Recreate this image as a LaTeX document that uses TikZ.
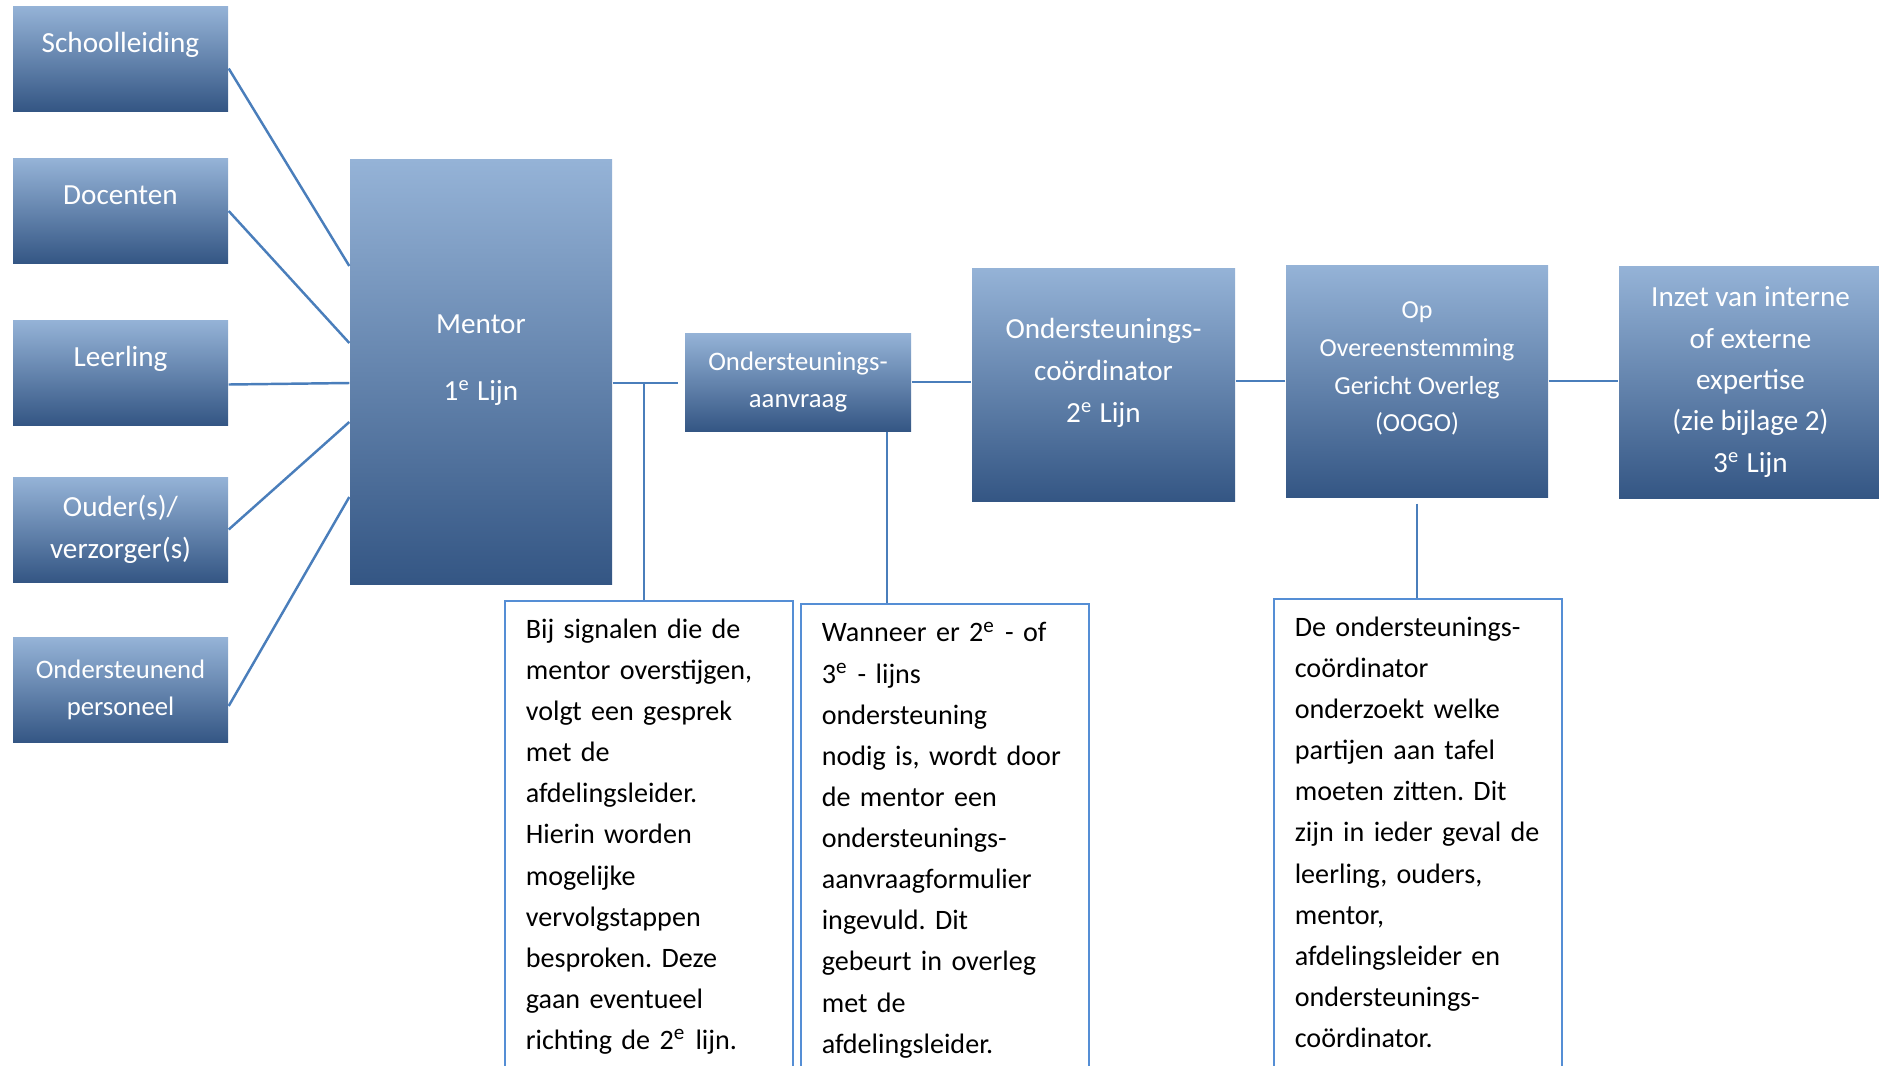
\documentclass[tikz,border=0pt]{standalone}
\usepackage{fontspec}
\setmainfont{Carlito}
\usepackage{tikz}
\usetikzlibrary{positioning, calc}
\definecolor{boxtop}{RGB}{149, 179, 215}
\definecolor{boxmid}{RGB}{79, 129, 189}
\definecolor{boxbot}{RGB}{52, 86, 132}
\definecolor{linkblue}{RGB}{74, 126, 187}
\definecolor{noteblue}{RGB}{85, 142, 213}
\frenchspacing

\begin{document}
\begin{tikzpicture}[
  box/.style={rectangle, top color=boxtop, middle color=boxmid, bottom color=boxbot, text=white, align=center, inner sep=0pt, font=\fontsize{8.3}{11.9}\selectfont},
  side/.style={box, minimum width=2.15cm, minimum height=1.05cm},
  oneline/.style={text height=0.2cm, text depth=0.33cm},
  smalltext/.style={font=\fontsize{7.6}{10.4}\selectfont},
  link/.style={draw=linkblue, line width=0.7pt},
  note/.style={draw=noteblue, line width=0.45pt, anchor=north west, text width=2.46cm, align=left, inner xsep=0.21cm, inner ysep=0.18cm, text depth=5cm, font=\fontsize{8.0}{11.7}\selectfont}
]
  \useasboundingbox (0, 0) rectangle (18.79, -10.65);
  \clip (0, 0) rectangle (18.79, -10.65);

  \node[side, oneline] (school) at (1.205, -0.585) {Schoolleiding};
  \node[side, oneline] (docent) at (1.205, -2.11) {Docenten};
  \node[side, oneline] (leerling) at (1.205, -3.725) {Leerling};
  \node[side] (ouder) at (1.205, -5.295) {Ouder(s)/\\verzorger(s)};
  \node[side, smalltext] (personeel) at (1.205, -6.90) {Ondersteunend\\personeel};

  \node[box, minimum width=2.62cm, minimum height=4.25cm] (mentor) at (4.81, -3.715) {
    Mentor\\[0.25cm]
    1\textsuperscript{e} Lijn\\[-3.9pt]\mbox{}
  };
  \node[box, smalltext, minimum width=2.26cm, minimum height=0.98cm] (aanvraag) at (7.98, -3.82) {
    Ondersteunings-\\aanvraag
  };
  \node[box, minimum width=2.63cm, minimum height=2.33cm] (coord) at (11.035, -3.845) {
    Ondersteunings-\\coördinator\\2\textsuperscript{e} Lijn\\[-3.9pt]\mbox{}
  };
  \node[box, font=\fontsize{7.4}{10.7}\selectfont, minimum width=2.62cm, minimum height=2.32cm] (oogo) at (14.17, -3.81) {
    Op\\Overeenstemming\\Gericht Overleg\\(OOGO)\\[-2.7pt]\mbox{}
  };
  \node[box, font=\fontsize{8.3}{11.75}\selectfont, minimum width=2.63cm, minimum height=2.32cm] (inzet) at (17.505, -3.82) {
    Inzet van interne\\of externe\\expertise\\(zie bijlage 2)\\3\textsuperscript{e} Lijn
  };

  \node[note] (note1) at (5.04, -6.00) {
    Bij signalen die de\\mentor overstijgen,\\volgt een gesprek\\met de\\afdelingsleider.\\Hierin worden\\mogelijke\\vervolgstappen\\besproken. Deze\\gaan eventueel\\richting de 2\textsuperscript{e} lijn.
  };
  \node[note] (note2) at (8.00, -6.03) {
    Wanneer er 2\textsuperscript{e} - of\\3\textsuperscript{e} - lijns\\ondersteuning\\nodig is, wordt door\\de mentor een\\ondersteunings-\\aanvraagformulier\\ingevuld. Dit\\gebeurt in overleg\\met de\\afdelingsleider.
  };
  \node[note] (note3) at (12.73, -5.98) {
    De ondersteunings-\\coördinator\\onderzoekt welke\\partijen aan tafel\\moeten zitten. Dit\\zijn in ieder geval de\\leerling, ouders,\\mentor,\\afdelingsleider en\\ondersteunings-\\coördinator.
  };

  \draw[link] ([yshift=-0.1cm]school.east) -- ([yshift=1.055cm]mentor.west);
  \draw[link] (docent.east) -- ([yshift=0.285cm]mentor.west);
  \draw[link] ([yshift=-0.12cm]leerling.east) -- ([yshift=-0.115cm]mentor.west);
  \draw[link] (ouder.east) -- ([yshift=-0.505cm]mentor.west);
  \draw[link] ([yshift=-0.16cm]personeel.east) -- ([yshift=-1.255cm]mentor.west);

  \draw[link, shorten >=0.06cm] ([yshift=-0.115cm]mentor.east) -- ([yshift=-0.01cm]aanvraag.west);
  \coordinate (split1) at (6.44, -3.83);
  \draw[link] (split1) -- (split1 |- note1.north);
  \draw[link] (aanvraag.east) -- (aanvraag.east -| coord.west);
  \coordinate (split2) at ([xshift=0.89cm]aanvraag.south);
  \draw[link] (split2) -- (split2 |- note2.north);
  \draw[link] (oogo.west) -- (oogo.west -| coord.east);
  \draw[link] (oogo.east) -- (oogo.east -| inzet.west);
  \draw[link, shorten <=0.06cm] (oogo.south) -- (oogo.south |- note3.north);
\end{tikzpicture}
\end{document}
